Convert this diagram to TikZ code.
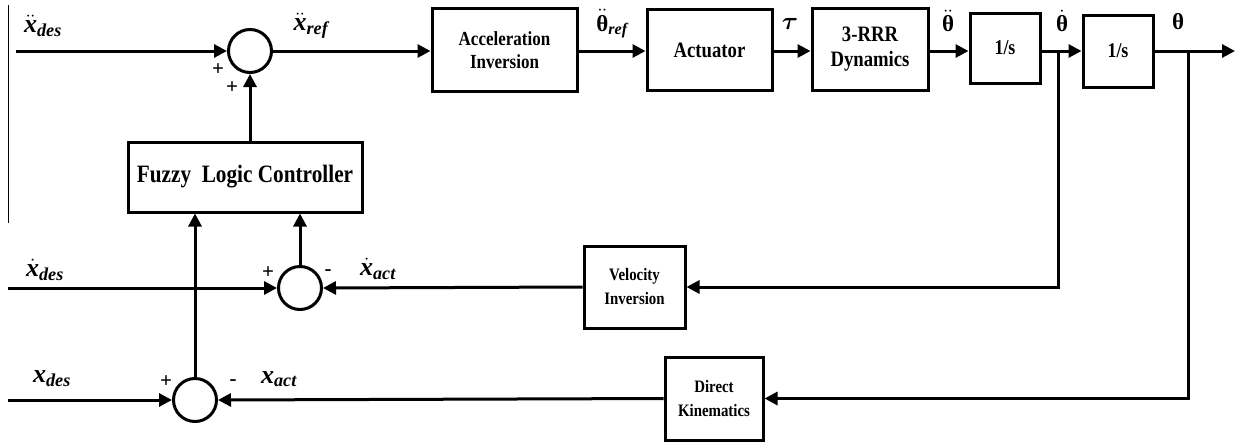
\documentclass[tikz,border=0pt]{standalone}
\usepackage{amsmath,bm}
\usepackage{fontspec}
\setmainfont{Liberation Serif}
\newfontfamily\condf[FakeStretch=0.85]{Liberation Serif}
\usetikzlibrary{arrows.meta}
\newcommand{\fsz}[2]{\fontsize{#1}{#2}\selectfont}
\newcommand{\bx}[1]{\text{\bfseries\itshape #1}}
\newcommand{\bth}{\text{\bfseries θ}}
\begin{document}
\begin{tikzpicture}[x=1pt,y=-1pt,line width=3pt,
  blk/.style={draw,line width=3pt,rectangle,align=center,inner sep=0pt,font=\condf\bfseries\fsz{20}{23}},
  sumc/.style={draw,circle,line width=3pt,minimum size=43pt,inner sep=0pt},
  arr/.style={-{Triangle[length=13pt,width=13pt]}},
  lbl/.style={inner sep=0pt,font=\fsz{23}{26}},
  xlbl/.style={inner sep=0pt,font=\fsz{26}{28}},
  sgn/.style={inner sep=0pt,font=\bfseries\fsz{21}{21}}]
\useasboundingbox (0,0) rectangle (1238,442);
% thin edge line
\coordinate (e1) at (8,5); \coordinate (e2) at (8,223);
\draw[line width=1pt] (e1) -- (e2);
% blocks
\node[sumc] (s1) at (250,51) {};
\node[blk,minimum width=145pt,minimum height=83pt] (ai) at (504.5,50) {Acceleration\\Inversion};
\node[blk,minimum width=125pt,minimum height=81pt,font=\condf\bfseries\fsz{22}{23}] (act) at (709.5,50) {Actuator};
\node[blk,minimum width=116pt,minimum height=82pt,font=\condf\bfseries\fsz{22}{25}] (dyn) at (870,49) {3-RRR\\Dynamics};
\node[blk,minimum width=70pt,minimum height=70pt,font=\condf\bfseries\fsz{21}{23}] (i1) at (1005,48) {1/s};
\node[blk,minimum width=70pt,minimum height=72pt,font=\condf\bfseries\fsz{21}{23}] (i2) at (1118,51) {1/s};
\node[blk,minimum width=234pt,minimum height=70pt,font=\condf\bfseries\fsz{25}{25}] (flc) at (245,177) {Fuzzy\ \ Logic Controller};
\node[sumc] (s2) at (300,288) {};
\node[sumc] (s3) at (195,400) {};
\node[blk,minimum width=101pt,minimum height=82pt,font=\condf\bfseries\fsz{17.5}{24}] (vi) at (634.5,287) {Velocity\\Inversion};
\node[blk,minimum width=98pt,minimum height=83pt,font=\condf\bfseries\fsz{17.5}{24}] (dk) at (714,398.5) {Direct\\Kinematics};
% coordinates
\coordinate (in1) at (16,51);
\coordinate (in2) at (8,288);
\coordinate (in3) at (8,400);
\coordinate (b1) at (1058,51);
\coordinate (b2) at (1188,51);
\coordinate (out) at (1235,51);
% forward path
\draw[arr] (in1) -- (s1.west);
\draw[arr] (s1.east) -- (s1.east -| ai.west);
\draw[arr] (ai.east |- 0,51) -- (act.west |- 0,51);
\draw[arr] (act.east |- 0,51) -- (dyn.west |- 0,51);
\draw[arr] (dyn.east |- 0,51) -- (i1.west |- 0,51);
\draw[arr] (i1.east |- 0,51) -- (i2.west |- 0,51);
\draw[arr] (i2.east |- 0,51) -- (out);
\draw[arr] (flc.north -| s1.south) -- (s1.south);
% feedback
\draw[arr] (b1) -- (b1 |- vi.east) -- (vi.east);
\draw[arr] (b2) -- (b2 |- dk.east) -- (dk.east);
\draw[arr] (vi.west) -- (s2.east);
\draw[arr] (dk.west) -- (s3.east);
\draw[arr] (in2) -- (s2.west);
\draw[arr] (in3) -- (s3.west);
\draw[arr] (s2.north) -- (s2.north |- flc.south);
\draw[arr] (s3.north) -- (s3.north |- flc.south);
% labels
\node[xlbl] (l1) at (43,26) {$\ddot{\bx{x}}_{\bx{des}}$};
\node[xlbl] (l2) at (311,26) {$\ddot{\bx{x}}_{\bx{ref}}$};
\node[lbl] (l3) at (612,24) {$\ddot{\bth}_{\bx{ref}}$};
\node[lbl] (l4) at (790,24) {$\bm{\tau}$};
\node[lbl] (l5) at (948,21) {$\ddot{\bth}$};
\node[lbl] (l6) at (1062,21) {$\dot{\bth}$};
\node[lbl] (l7) at (1178,22) {$\bth$};
\node[xlbl] (l8) at (45,270) {$\dot{\bx{x}}_{\bx{des}}$};
\node[xlbl] (l9) at (378,269) {$\dot{\bx{x}}_{\bx{act}}$};
\node[xlbl] (l10) at (52,379) {$\bx{x}_{\bx{des}}$};
\node[xlbl] (l11) at (279,379) {$\bx{x}_{\bx{act}}$};
\node[sgn] (p1) at (218,70) {+};
\node[sgn] (p2) at (232,88) {+};
\node[sgn] (p3) at (268,273) {+};
\node[sgn] (m1) at (328,273) {-};
\node[sgn] (p4) at (166,382) {+};
\node[sgn] (m2) at (233,383) {-};
\end{tikzpicture}
\end{document}
